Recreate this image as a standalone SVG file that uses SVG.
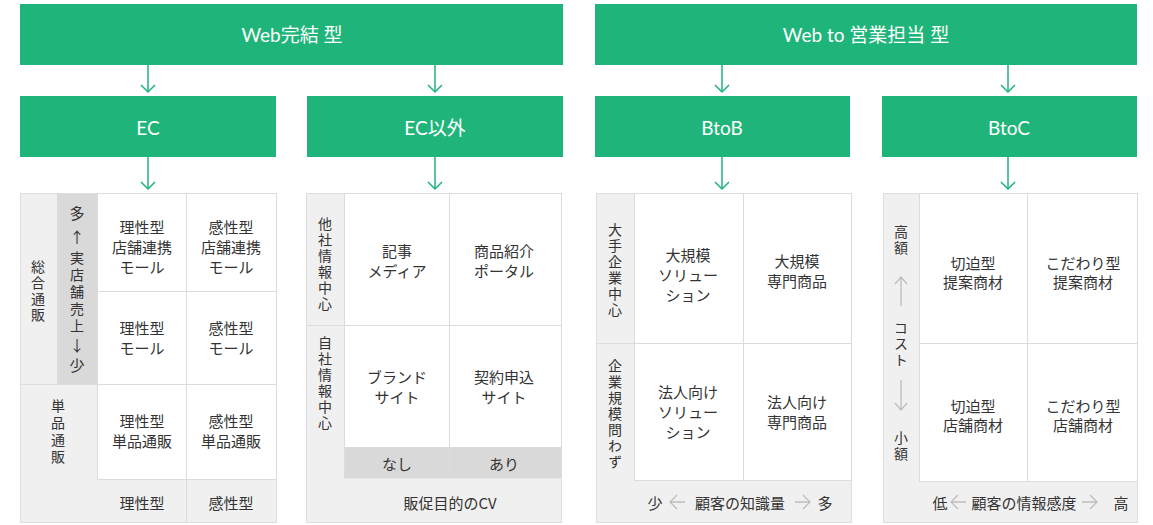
<svg xmlns="http://www.w3.org/2000/svg" width="1153" height="525" viewBox="0 0 1153 525">
<defs>
<style>
.hdr{fill:#1fb57a}
.ht{fill:#fff;font-family:Lato,"Noto Sans CJK JP",sans-serif;font-size:19px;text-anchor:middle;dominant-baseline:central}
.bg{fill:#f0f0f0;stroke:#dedede;stroke-width:1}
.dk{fill:#d9d9d9}
.cell{fill:#fff;stroke:#dcdcdc;stroke-width:1}
.ln{stroke:#dcdcdc;stroke-width:1;fill:none}
.t{fill:#333;font-family:"Noto Sans CJK JP",sans-serif;font-size:15px;text-anchor:middle;dominant-baseline:central}
.v{fill:#333;font-family:"Noto Sans CJK JP",sans-serif;font-size:14px;text-anchor:middle;writing-mode:vertical-rl}
.conn{stroke:#1fb57a;stroke-width:1.5;fill:none}
.ga{stroke:#bdbdbd;stroke-width:1.3;fill:none}
</style>
<path id="head" d="M-7,-7 L0,0 L7,-7" fill="none" stroke="#1fb57a" stroke-width="1.5"/>
</defs>
<rect width="1153" height="525" fill="#fff"/>

<g id="connectors">
<line class="conn" x1="148" y1="65" x2="148" y2="92"/>
<line class="conn" x1="435" y1="65" x2="435" y2="92"/>
<line class="conn" x1="722" y1="65" x2="722" y2="92"/>
<line class="conn" x1="1008" y1="65" x2="1008" y2="92"/>
<line class="conn" x1="148" y1="157" x2="148" y2="189"/>
<line class="conn" x1="435" y1="157" x2="435" y2="189"/>
<line class="conn" x1="722" y1="157" x2="722" y2="189"/>
<line class="conn" x1="1008" y1="157" x2="1008" y2="189"/>
<use href="#head" x="148" y="92"/>
<use href="#head" x="435" y="92"/>
<use href="#head" x="722" y="92"/>
<use href="#head" x="1008" y="92"/>
<use href="#head" x="148" y="189"/>
<use href="#head" x="435" y="189"/>
<use href="#head" x="722" y="189"/>
<use href="#head" x="1008" y="189"/>
</g>

<g id="web-kanketsu">
<rect class="hdr" x="20" y="4" width="543" height="61"/>
<text class="ht" x="292" y="34">Web完結 型</text>
</g>
<g id="web-to-eigyo">
<rect class="hdr" x="595" y="4" width="542" height="61"/>
<text class="ht" x="866" y="34">Web to 営業担当 型</text>
</g>
<g id="ec">
<rect class="hdr" x="20" y="96" width="256" height="61"/>
<text class="ht" x="148" y="127">EC</text>
</g>
<g id="ec-igai">
<rect class="hdr" x="307" y="96" width="256" height="61"/>
<text class="ht" x="435" y="127">EC以外</text>
</g>
<g id="btob">
<rect class="hdr" x="595" y="96" width="255" height="61"/>
<text class="ht" x="722" y="127">BtoB</text>
</g>
<g id="btoc">
<rect class="hdr" x="882" y="96" width="255" height="61"/>
<text class="ht" x="1009" y="127">BtoC</text>
</g>

<g id="matrix-ec">
<rect class="bg" x="20.5" y="193.5" width="256" height="329"/>
<rect class="dk" x="57" y="194" width="40" height="190"/>
<line class="ln" x1="20.5" y1="384.5" x2="97" y2="384.5"/>
<rect class="cell" x="97.5" y="193.5" width="89" height="98"/>
<rect class="cell" x="186.5" y="193.5" width="90" height="98"/>
<rect class="cell" x="97.5" y="291.5" width="89" height="93"/>
<rect class="cell" x="186.5" y="291.5" width="90" height="93"/>
<rect class="cell" x="97.5" y="384.5" width="89" height="95"/>
<rect class="cell" x="186.5" y="384.5" width="90" height="95"/>
<line class="ln" x1="186.5" y1="479.5" x2="186.5" y2="522.5"/>
<text class="v" x="38" y="292" letter-spacing="2">総合通販</text>
<text class="t" x="77" y="212">多</text>
<text class="t" x="77" y="236">↑</text>
<text class="v" x="77" y="293" letter-spacing="3">実店舗売上</text>
<text class="t" x="77" y="344">↓</text>
<text class="t" x="77" y="364">少</text>
<text class="v" x="58" y="433" letter-spacing="3">単品通販</text>
<text class="t"><tspan x="142" y="226">理性型</tspan><tspan x="142" y="246">店舗連携</tspan><tspan x="142" y="266">モール</tspan></text>
<text class="t"><tspan x="231" y="226">感性型</tspan><tspan x="231" y="246">店舗連携</tspan><tspan x="231" y="266">モール</tspan></text>
<text class="t"><tspan x="142" y="327">理性型</tspan><tspan x="142" y="347">モール</tspan></text>
<text class="t"><tspan x="231" y="327">感性型</tspan><tspan x="231" y="347">モール</tspan></text>
<text class="t"><tspan x="142" y="420">理性型</tspan><tspan x="142" y="440">単品通販</tspan></text>
<text class="t"><tspan x="231" y="420">感性型</tspan><tspan x="231" y="440">単品通販</tspan></text>
<text class="t" x="142" y="502">理性型</text>
<text class="t" x="231" y="502">感性型</text>
</g>

<g id="matrix-ec-igai">
<rect class="bg" x="306.5" y="193.5" width="255" height="329"/>
<line class="ln" x1="306.5" y1="325.5" x2="344" y2="325.5"/>
<rect class="cell" x="344.5" y="193.5" width="105" height="132"/>
<rect class="cell" x="449.5" y="193.5" width="112" height="132"/>
<rect class="cell" x="344.5" y="325.5" width="105" height="122"/>
<rect class="cell" x="449.5" y="325.5" width="112" height="122"/>
<rect class="dk" x="344.5" y="447.5" width="217" height="31"/>
<line class="ln" x1="449.5" y1="447.5" x2="449.5" y2="478.5"/>
<line class="ln" x1="344.5" y1="447.5" x2="344.5" y2="478.5"/>
<text class="v" x="325" y="265" letter-spacing="2">他社情報中心</text>
<text class="v" x="325" y="384" letter-spacing="2">自社情報中心</text>
<text class="t"><tspan x="397" y="250">記事</tspan><tspan x="397" y="270">メディア</tspan></text>
<text class="t"><tspan x="504" y="250">商品紹介</tspan><tspan x="504" y="270">ポータル</tspan></text>
<text class="t"><tspan x="397" y="376">ブランド</tspan><tspan x="397" y="396">サイト</tspan></text>
<text class="t"><tspan x="504" y="376">契約申込</tspan><tspan x="504" y="396">サイト</tspan></text>
<text class="t" x="397" y="463">なし</text>
<text class="t" x="504" y="463">あり</text>
<text class="t" x="450" y="502">販促目的のCV</text>
</g>

<g id="matrix-btob">
<rect class="bg" x="596.5" y="193.5" width="255" height="329"/>
<line class="ln" x1="596.5" y1="343.5" x2="634" y2="343.5"/>
<rect class="cell" x="634.5" y="193.5" width="109" height="150"/>
<rect class="cell" x="743.5" y="193.5" width="108" height="150"/>
<rect class="cell" x="634.5" y="343.5" width="109" height="137"/>
<rect class="cell" x="743.5" y="343.5" width="108" height="137"/>
<text class="v" x="615" y="271" letter-spacing="2">大手企業中心</text>
<text class="v" x="615" y="415" letter-spacing="2">企業規模問わず</text>
<text class="t"><tspan x="688" y="254">大規模</tspan><tspan x="688" y="274">ソリュー</tspan><tspan x="688" y="294">ション</tspan></text>
<text class="t"><tspan x="797" y="260">大規模</tspan><tspan x="797" y="280">専門商品</tspan></text>
<text class="t"><tspan x="688" y="391">法人向け</tspan><tspan x="688" y="411">ソリュー</tspan><tspan x="688" y="431">ション</tspan></text>
<text class="t"><tspan x="797" y="401">法人向け</tspan><tspan x="797" y="421">専門商品</tspan></text>
<text class="t" x="655" y="502">少</text>
<path class="ga" d="M670,502 H685 M677,495 L670,502 L677,509"/>
<text class="t" x="740" y="502">顧客の知識量</text>
<path class="ga" d="M795,502 H810 M803,495 L810,502 L803,509"/>
<text class="t" x="825" y="502">多</text>
</g>

<g id="matrix-btoc">
<rect class="bg" x="883.5" y="193.5" width="254" height="329"/>
<rect class="cell" x="919.5" y="193.5" width="108" height="150"/>
<rect class="cell" x="1027.5" y="193.5" width="110" height="150"/>
<rect class="cell" x="919.5" y="343.5" width="108" height="138"/>
<rect class="cell" x="1027.5" y="343.5" width="110" height="138"/>
<text class="v" x="901" y="241" letter-spacing="2">高額</text>
<path class="ga" d="M901,277 V306 M895,284 L901,277 L907,284"/>
<text class="v" x="901" y="345" letter-spacing="2">コスト</text>
<path class="ga" d="M901,380 V410 M895,403 L901,410 L907,403"/>
<text class="v" x="901" y="447" letter-spacing="2">小額</text>
<text class="t"><tspan x="973" y="262">切迫型</tspan><tspan x="973" y="281">提案商材</tspan></text>
<text class="t"><tspan x="1083" y="262">こだわり型</tspan><tspan x="1083" y="281">提案商材</tspan></text>
<text class="t"><tspan x="973" y="405">切迫型</tspan><tspan x="973" y="424">店舗商材</tspan></text>
<text class="t"><tspan x="1083" y="405">こだわり型</tspan><tspan x="1083" y="424">店舗商材</tspan></text>
<text class="t" x="940" y="502">低</text>
<path class="ga" d="M951,502 H966 M958,495 L951,502 L958,509"/>
<text class="t" x="1024" y="502">顧客の情報感度</text>
<path class="ga" d="M1082,502 H1097 M1090,495 L1097,502 L1090,509"/>
<text class="t" x="1121" y="502">高</text>
</g>
</svg>
